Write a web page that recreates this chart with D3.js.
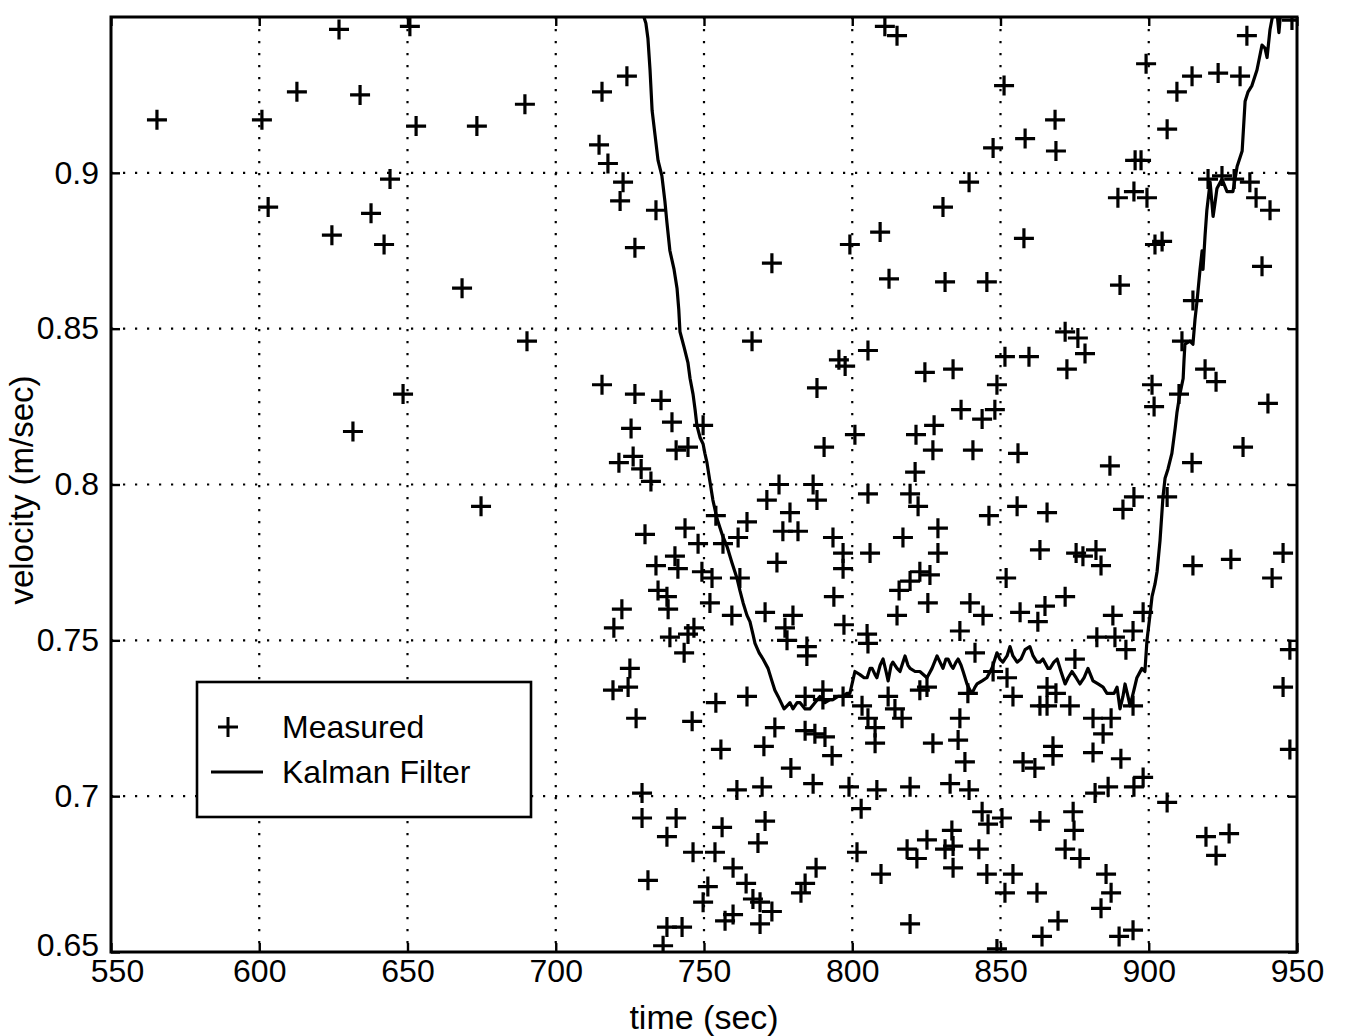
<!DOCTYPE html>
<html>
<head>
<meta charset="utf-8">
<script src="https://cdn.jsdelivr.net/npm/d3@7"></script>
<style>
  body { margin: 0; background: #fff; }
  text { font-family: "Liberation Sans", Arial, Helvetica, sans-serif; fill: #000; }
</style>
</head>
<body>
<div id="chart"></div>
<script>
// measured velocity samples (time in sec, velocity in m/sec)
var measuredTime = [
  565.5, 600.9, 603.0, 612.7, 624.5, 626.9, 631.6, 634.0, 637.7, 642.1, 644.1, 648.5, 650.8, 652.9,
  668.4, 673.4, 674.8, 689.6, 690.3, 724.0, 715.6, 714.6, 717.6, 722.7, 721.7, 733.8, 726.7,
  811.0, 815.1, 851.2, 858.3, 847.5, 839.4, 830.6, 809.4, 799.2, 857.9,
  933.1, 899.1, 914.6, 923.4, 930.8, 909.5, 868.4, 906.2, 868.7, 895.4, 897.4, 920.0, 924.7, 928.8,
  934.1, 936.2, 940.9, 889.6, 895.0, 899.4, 902.1, 904.5,
  772.9, 766.2, 715.6, 726.7, 735.5, 739.2, 725.4, 749.7, 740.6, 744.6, 726.1, 721.3, 728.8, 732.1, 775.3,
  812.4, 831.3, 845.4, 795.5, 797.6, 805.3, 788.1, 824.5, 834.0, 851.5, 859.6, 848.8, 836.7, 843.8,
  848.1, 800.9, 821.5, 827.6, 790.5, 827.2, 840.7, 855.9, 821.2, 786.8,
  938.2, 890.3, 914.9, 871.8, 876.1, 878.5, 872.4, 911.2, 919.0, 922.7, 901.1, 910.2, 901.8, 940.2,
  931.8, 886.9, 914.6,
  771.2, 779.0, 764.5, 776.6, 781.7, 743.6, 730.1, 761.5, 748.0, 754.0, 756.4, 740.2, 733.8, 741.2,
  774.6, 749.3, 752.7, 762.1, 734.5, 737.5, 752.0, 737.9, 722.3, 759.4, 770.6, 780.0, 777.3, 719.6,
  746.6, 738.5, 744.6, 778.0, 784.7, 743.3, 784.7, 725.0, 719.3, 724.4, 754.0, 764.5, 727.1, 746.0,
  788.1, 805.3, 819.5, 822.2, 846.1, 855.6, 865.7, 793.5, 828.9, 817.1, 796.9, 806.0, 828.9, 863.3,
  796.9, 822.8, 826.2, 819.5, 851.9, 815.8, 793.8, 825.5, 839.7, 844.1, 815.1, 856.6, 865.0, 862.6,
  797.2, 836.3, 805.0, 805.3, 841.4, 847.5, 852.2, 865.7, 825.2, 822.8, 839.0, 784.1, 790.1, 790.1,
  796.9, 854.2, 812.1, 803.3, 814.4, 863.3, 865.7, 805.3, 816.8, 836.3,
  895.0, 891.3, 906.2, 875.5, 877.8, 882.2, 883.9, 914.9, 927.7, 945.3, 941.6, 871.8, 887.9, 898.1,
  894.7, 882.5, 888.6, 892.3, 947.6, 875.1, 945.3, 868.7, 873.4, 894.7, 881.2, 887.3,
  773.9, 784.1, 755.7, 770.2, 779.3, 761.1, 769.6, 729.1, 729.1, 740.6, 756.1, 770.6, 737.5, 746.3,
  753.7, 768.2, 759.8, 731.1, 764.2, 751.3, 749.7, 766.5, 768.9, 772.9, 759.8, 757.1, 768.9, 782.7,
  784.1, 737.5, 742.6, 736.2,
  807.7, 787.4, 790.8, 807.7, 827.2, 835.7, 793.2, 838.0, 857.6, 861.6, 786.8, 798.9, 808.3, 819.5,
  833.0, 839.4, 803.0, 843.8, 845.8, 850.5, 863.3, 833.6, 825.2, 818.5, 821.8, 831.3, 834.0, 842.7,
  801.6, 787.8, 834.0, 809.7, 845.4, 854.2, 851.5, 862.3, 819.5, 864.0, 848.8,
  884.6, 867.7, 867.7, 881.2, 890.6, 898.1, 886.3, 881.9, 895.0, 906.2, 947.6, 874.5, 874.8, 871.8,
  876.8, 919.3, 927.1, 922.7, 885.6, 887.3, 883.9, 869.4, 890.0, 894.7, 948.3
];
var measuredVel = [
  0.917, 0.917, 0.889, 0.926, 0.880, 0.946, 0.817, 0.925, 0.887, 0.877, 0.898, 0.829, 0.947, 0.915,
  0.863, 0.915, 0.793, 0.922, 0.846, 0.931, 0.926, 0.909, 0.903, 0.897, 0.891, 0.888, 0.876,
  0.947, 0.944, 0.928, 0.911, 0.908, 0.897, 0.889, 0.881, 0.877, 0.879,
  0.944, 0.935, 0.931, 0.932, 0.931, 0.926, 0.917, 0.914, 0.907, 0.904, 0.904, 0.898, 0.899, 0.898,
  0.897, 0.892, 0.888, 0.892, 0.894, 0.892, 0.877, 0.878,
  0.871, 0.846, 0.832, 0.829, 0.827, 0.820, 0.818, 0.819, 0.811, 0.812, 0.809, 0.807, 0.805, 0.801, 0.800,
  0.866, 0.865, 0.865, 0.840, 0.838, 0.843, 0.831, 0.836, 0.837, 0.841, 0.841, 0.832, 0.824, 0.821,
  0.824, 0.816, 0.816, 0.819, 0.812, 0.811, 0.811, 0.810, 0.804, 0.800,
  0.870, 0.864, 0.859, 0.849, 0.847, 0.842, 0.837, 0.846, 0.837, 0.833, 0.832, 0.829, 0.825, 0.826,
  0.812, 0.806, 0.807,
  0.795, 0.791, 0.788, 0.785, 0.785, 0.786, 0.784, 0.783, 0.781, 0.790, 0.781, 0.777, 0.774, 0.773,
  0.775, 0.772, 0.770, 0.770, 0.766, 0.764, 0.762, 0.760, 0.760, 0.758, 0.759, 0.758, 0.754, 0.754,
  0.754, 0.751, 0.752, 0.750, 0.748, 0.746, 0.745, 0.741, 0.734, 0.735, 0.730, 0.732, 0.725, 0.724,
  0.795, 0.797, 0.797, 0.793, 0.790, 0.793, 0.791, 0.783, 0.786, 0.783, 0.778, 0.778, 0.778, 0.779,
  0.773, 0.772, 0.771, 0.769, 0.770, 0.766, 0.764, 0.762, 0.762, 0.758, 0.758, 0.759, 0.761, 0.756,
  0.755, 0.753, 0.752, 0.749, 0.746, 0.740, 0.738, 0.735, 0.735, 0.734, 0.733, 0.732, 0.734, 0.731,
  0.732, 0.732, 0.732, 0.729, 0.728, 0.729, 0.729, 0.725, 0.725, 0.725,
  0.796, 0.792, 0.796, 0.778, 0.777, 0.779, 0.774, 0.774, 0.776, 0.778, 0.770, 0.764, 0.758, 0.759,
  0.753, 0.751, 0.751, 0.747, 0.747, 0.744, 0.735, 0.733, 0.729, 0.729, 0.725, 0.725,
  0.722, 0.721, 0.715, 0.716, 0.709, 0.702, 0.703, 0.701, 0.693, 0.693, 0.690, 0.692, 0.687, 0.682,
  0.682, 0.685, 0.677, 0.673, 0.672, 0.671, 0.666, 0.667, 0.666, 0.663, 0.662, 0.660, 0.659, 0.669,
  0.672, 0.658, 0.658, 0.652,
  0.722, 0.720, 0.719, 0.717, 0.717, 0.718, 0.713, 0.711, 0.711, 0.709, 0.704, 0.703, 0.702, 0.703,
  0.704, 0.702, 0.696, 0.695, 0.691, 0.693, 0.692, 0.689, 0.686, 0.683, 0.680, 0.683, 0.684, 0.683,
  0.682, 0.677, 0.677, 0.675, 0.675, 0.675, 0.669, 0.669, 0.659, 0.655, 0.651,
  0.720, 0.716, 0.713, 0.714, 0.712, 0.706, 0.703, 0.701, 0.703, 0.698, 0.715, 0.695, 0.689, 0.683,
  0.680, 0.687, 0.688, 0.681, 0.675, 0.669, 0.664, 0.660, 0.655, 0.657, 0.949
];

// Kalman filter estimate
var kalmanTime = [
  729.0, 729.4, 730.4, 731.1, 731.8, 732.5, 733.5, 734.5, 735.8, 736.8, 737.5, 738.5, 739.9, 740.9,
  741.5, 741.9, 743.3, 744.6, 745.3, 746.3, 747.0, 747.6, 748.7, 749.7, 750.3, 751.0, 752.0, 753.0,
  754.4, 756.1, 757.8, 759.4, 761.1, 762.1, 763.2, 764.5, 765.5, 766.5, 767.2, 768.6, 769.9, 771.6,
  772.9, 773.9, 775.0, 776.0, 777.0, 778.0, 779.0, 780.0, 781.4, 782.4, 784.1, 785.7, 787.4, 789.1,
  790.8, 792.5, 793.5, 795.2, 796.9, 798.2, 799.2, 800.9, 802.6, 804.0, 805.0, 806.0, 806.7, 807.7,
  808.3, 809.4, 810.4, 811.4, 812.1, 813.1, 813.7, 815.1, 816.1, 817.1, 817.8, 818.8, 819.5, 821.2,
  822.8, 825.2, 826.9, 828.6, 829.6, 830.6, 831.6, 832.3, 833.3, 834.0, 835.0, 835.7, 836.7, 837.4,
  838.7, 839.7, 840.4, 841.4, 842.1, 843.8, 845.4, 847.1, 848.8, 849.8, 850.8, 852.2, 853.2, 854.2,
  855.6, 856.9, 858.3, 859.9, 861.0, 862.3, 863.3, 864.3, 866.0, 866.7, 868.0, 869.1, 870.4, 871.8,
  872.8, 874.1, 875.5, 876.8, 878.2, 879.5, 881.2, 882.9, 884.6, 885.9, 886.9, 888.3, 889.3, 890.3,
  891.3, 892.0, 893.0, 893.7, 895.0, 896.0, 897.7, 898.7, 899.4, 900.4, 901.1, 902.1, 902.8, 903.8,
  904.8, 905.5, 906.5, 907.8, 908.9, 909.5, 910.5, 911.6, 911.9, 912.2, 913.9, 914.9, 915.6, 916.3,
  917.3, 918.0, 918.3, 919.0, 919.6, 920.7, 921.7, 922.3, 923.0, 924.7, 926.4, 928.4, 929.8, 931.5,
  932.5, 933.5, 934.8, 936.5, 938.2, 939.2, 939.9, 940.9, 941.9, 942.9, 943.9, 944.9, 946.3, 947.6, 950.0
];
var kalmanVel = [
  0.960, 0.951, 0.948, 0.943, 0.933, 0.920, 0.912, 0.904, 0.899, 0.891, 0.884, 0.875, 0.869, 0.863,
  0.856, 0.849, 0.844, 0.839, 0.834, 0.829, 0.824, 0.819, 0.815, 0.813, 0.810, 0.807, 0.801, 0.795,
  0.789, 0.784, 0.780, 0.775, 0.770, 0.766, 0.762, 0.758, 0.756, 0.752, 0.749, 0.746, 0.744, 0.741,
  0.737, 0.734, 0.732, 0.730, 0.728, 0.729, 0.730, 0.728, 0.730, 0.730, 0.728, 0.728, 0.730, 0.732,
  0.730, 0.731, 0.731, 0.732, 0.732, 0.733, 0.733, 0.740, 0.739, 0.738, 0.738, 0.741, 0.741, 0.739,
  0.738, 0.742, 0.744, 0.740, 0.737, 0.742, 0.743, 0.741, 0.740, 0.743, 0.745, 0.742, 0.741, 0.740,
  0.740, 0.738, 0.741, 0.745, 0.743, 0.741, 0.744, 0.744, 0.742, 0.741, 0.743, 0.744, 0.742, 0.740,
  0.736, 0.734, 0.733, 0.735, 0.736, 0.737, 0.738, 0.741, 0.746, 0.744, 0.743, 0.745, 0.748, 0.745,
  0.743, 0.744, 0.747, 0.748, 0.745, 0.743, 0.743, 0.744, 0.741, 0.741, 0.743, 0.744, 0.740, 0.736,
  0.738, 0.740, 0.738, 0.736, 0.738, 0.741, 0.737, 0.736, 0.735, 0.733, 0.733, 0.733, 0.735, 0.728,
  0.732, 0.736, 0.732, 0.729, 0.734, 0.738, 0.741, 0.740, 0.750, 0.758, 0.764, 0.768, 0.772, 0.782,
  0.796, 0.802, 0.805, 0.810, 0.818, 0.823, 0.829, 0.834, 0.840, 0.845, 0.846, 0.845, 0.853, 0.859,
  0.869, 0.875, 0.869, 0.880, 0.888, 0.897, 0.886, 0.890, 0.895, 0.898, 0.894, 0.894, 0.902, 0.907,
  0.923, 0.926, 0.928, 0.933, 0.941, 0.940, 0.937, 0.946, 0.951, 0.955, 0.945, 0.956, 0.955, 0.952, 0.952
];

var xTicks = [550, 600, 650, 700, 750, 800, 850, 900, 950];
var yTicks = [0.65, 0.7, 0.75, 0.8, 0.85, 0.9];
var yTickLabels = ['0.65', '0.7', '0.75', '0.8', '0.85', '0.9'];
var legendLabels = ['Measured', 'Kalman Filter'];

var width = 1348, height = 1036;
var margin = { left: 111, right: 51, top: 17, bottom: 84 };
var plotW = width - margin.left - margin.right;
var plotH = height - margin.top - margin.bottom;

var x = d3.scaleLinear().domain([550, 950]).range([0, plotW]);
var y = d3.scaleLinear().domain([0.65, 0.95]).range([plotH, 0]);

var svg = d3.select('#chart').append('svg')
    .attr('width', width)
    .attr('height', height);

var g = svg.append('g')
    .attr('transform', 'translate(' + margin.left + ',' + margin.top + ')');

svg.append('defs').append('clipPath').attr('id', 'plotclip')
  .append('rect').attr('width', plotW).attr('height', plotH);

// dotted grid
g.selectAll('.vgrid').data(xTicks.slice(1, -1)).enter().append('line')
    .attr('x1', function (d) { return x(d) }).attr('x2', function (d) { return x(d) })
    .attr('y1', 0).attr('y2', plotH)
    .attr('stroke', '#000').attr('stroke-width', 2.2).attr('stroke-dasharray', '2.2,9.8');
g.selectAll('.hgrid').data(yTicks.slice(1)).enter().append('line')
    .attr('x1', 0).attr('x2', plotW)
    .attr('y1', function (d) { return y(d) }).attr('y2', function (d) { return y(d) })
    .attr('stroke', '#000').attr('stroke-width', 2.2).attr('stroke-dasharray', '2.2,9.8');

var plot = g.append('g').attr('clip-path', 'url(#plotclip)');

// measured points as plus markers
var plus = 'M-10,0H10M0,-10V10';
plot.selectAll('.meas').data(measuredTime).enter().append('path')
    .attr('class', 'meas')
    .attr('d', plus)
    .attr('transform', function (d, i) { return 'translate(' + x(d) + ',' + y(measuredVel[i]) + ')' })
    .attr('stroke', '#000').attr('stroke-width', 3.2).attr('fill', 'none');

// kalman line
var line = d3.line()
    .x(function (d) { return x(d) })
    .y(function (d, i) { return y(kalmanVel[i]) });
plot.append('path')
    .attr('d', line(kalmanTime))
    .attr('fill', 'none').attr('stroke', '#000').attr('stroke-width', 3.2)
    .attr('stroke-linejoin', 'round');

// axes, ticks pointing inward
var fontSize = '32px';
var xAxis = g.append('g').attr('transform', 'translate(0,' + plotH + ')')
    .call(d3.axisBottom(x).tickValues(xTicks).tickSize(-9).tickPadding(7).tickFormat(d3.format('d')));
var yAxis = g.append('g')
    .call(d3.axisLeft(y).tickValues(yTicks).tickSize(-9).tickPadding(12)
      .tickFormat(function (d, i) { return yTickLabels[i] }));
var topAxis = g.append('g')
    .call(d3.axisTop(x).tickValues(xTicks).tickSize(-9).tickFormat(''));
var rightAxis = g.append('g').attr('transform', 'translate(' + plotW + ',0)')
    .call(d3.axisRight(y).tickValues(yTicks).tickSize(-9).tickFormat(''));

[xAxis, yAxis, topAxis, rightAxis].forEach(function (a) {
  a.select('.domain').remove();
  a.selectAll('line').attr('stroke', '#000').attr('stroke-width', 2.4);
  a.selectAll('text').style('font-size', fontSize).attr('fill', '#000');
});
// first x label sits a little right of the corner, the lowest y label a little high, as in the picture
xAxis.selectAll('.tick text').filter(function (d) { return d === 550 }).attr('dx', 6);
yAxis.selectAll('.tick text').filter(function (d) { return d === 0.65 }).attr('dy', '0.1em');

// frame
g.append('rect')
    .attr('width', plotW).attr('height', plotH)
    .attr('fill', 'none').attr('stroke', '#000').attr('stroke-width', 3);

// axis titles
svg.append('text')
    .attr('x', margin.left + plotW / 2).attr('y', 1029)
    .attr('text-anchor', 'middle')
    .style('font-size', '34px')
    .text('time (sec)');
svg.append('text')
    .attr('transform', 'translate(33,490) rotate(-90)')
    .attr('text-anchor', 'middle')
    .style('font-size', '33px')
    .text('velocity (m/sec)');

// legend
var legend = svg.append('g').attr('transform', 'translate(197,682)');
legend.append('rect')
    .attr('width', 334).attr('height', 135)
    .attr('fill', '#fff').attr('stroke', '#000').attr('stroke-width', 2.6);
legend.append('path')
    .attr('d', plus)
    .attr('transform', 'translate(31,45)')
    .attr('stroke', '#000').attr('stroke-width', 3).attr('fill', 'none');
legend.append('line')
    .attr('x1', 14).attr('x2', 66).attr('y1', 90).attr('y2', 90)
    .attr('stroke', '#000').attr('stroke-width', 3);
legend.selectAll('.lt').data(legendLabels).enter().append('text')
    .attr('x', 85)
    .attr('y', function (d, i) { return 45 + i * 45 })
    .attr('dy', '0.35em')
    .style('font-size', '32px')
    .text(function (d) { return d });
</script>
</body>
</html>
